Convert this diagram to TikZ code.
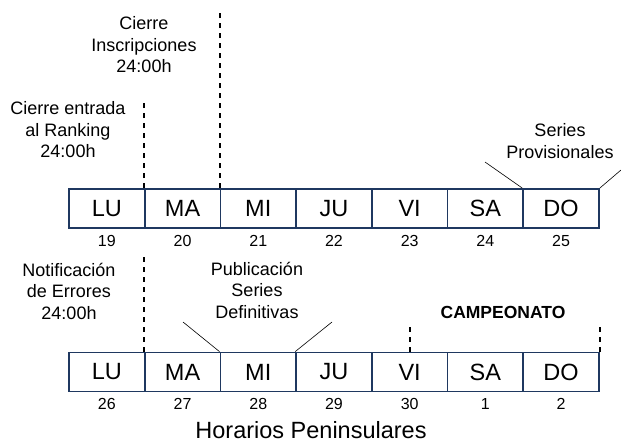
\documentclass[tikz,border=0pt]{standalone}
\usepackage{fontspec}
\setmainfont{Liberation Sans}
\usetikzlibrary{positioning}
\definecolor{boxblue}{RGB}{31,56,96}

\begin{document}
\begin{tikzpicture}[x=1pt,y=-1pt,
  daybox/.style={draw=boxblue, line width=1.8pt, minimum width=75.7pt, minimum height=39pt, inner sep=0pt, font=\fontsize{23.5}{27}\selectfont},
  daynum/.style={inner sep=0pt, font=\fontsize{16}{19}\selectfont},
  note/.style={inner sep=0pt, align=center, font=\fontsize{18}{21.5}\selectfont},
  cutline/.style={line width=2pt, dash pattern=on 5pt off 5pt},
  pointer/.style={line width=0.6pt}]
\useasboundingbox (0,0) rectangle (621,443);
\foreach \d [count=\i] in {LU,MA,MI,JU,VI,SA,DO} {
  \node[daybox] (a\i) at ({69+75.7*(\i-0.5)},208.5) {\d};
  \node[daybox] (b\i) at ({69+75.7*(\i-0.5)},372) {\d};
}
\foreach \n [count=\i] in {19,20,21,22,23,24,25} \node[daynum, below=6pt of a\i] {\n};
\foreach \n [count=\i] in {26,27,28,29,30,1,2} \node[daynum, below=6pt of b\i] {\n};
\node[note] (ranking) at (68,130) {Cierre entrada\\al Ranking\\24:00h};
\node[note] (inscr) at (144,45) {Cierre\\Inscripciones\\24:00h};
\node[note] (provis) at (560,141) {Series\\Provisionales};
\node[note] (errores) at (69,291) {Notificación\\de Errores\\24:00h};
\node[note] (defin) at (257,290) {Publicación\\Series\\Definitivas};
\node[note, font=\fontsize{17.5}{21}\selectfont\bfseries] (camp) at (503,312) {CAMPEONATO};
\node[inner sep=0pt, font=\fontsize{23.5}{28}\selectfont] (title) at (311,430) {Horarios Peninsulares};
\coordinate (rankingtop) at (a2.north west |- 0,100);
\coordinate (inscrtop) at (a3.north west |- 0,10);
\coordinate (errorestop) at (b2.north west |- 0,257);
\coordinate (viernestop) at (b5.north |- 0,322);
\coordinate (domingotop) at (b7.north east |- 0,322);
\coordinate (provisA) at (485,162);
\coordinate (provisB) at (621,170);
\coordinate (definA) at (183,322);
\coordinate (definB) at (332,322);
\draw[cutline] (a2.north west) -- (rankingtop);
\draw[cutline] (a3.north west) -- (inscrtop);
\draw[cutline] (b2.north west) -- (errorestop);
\draw[cutline] (b5.north) -- (viernestop);
\draw[cutline] (b7.north east) -- (domingotop);
\draw[pointer] (a7.north west) -- (provisA);
\draw[pointer] (a7.north east) -- (provisB);
\draw[pointer] (b3.north west) -- (definA);
\draw[pointer] (b4.north west) -- (definB);
\end{tikzpicture}
\end{document}
